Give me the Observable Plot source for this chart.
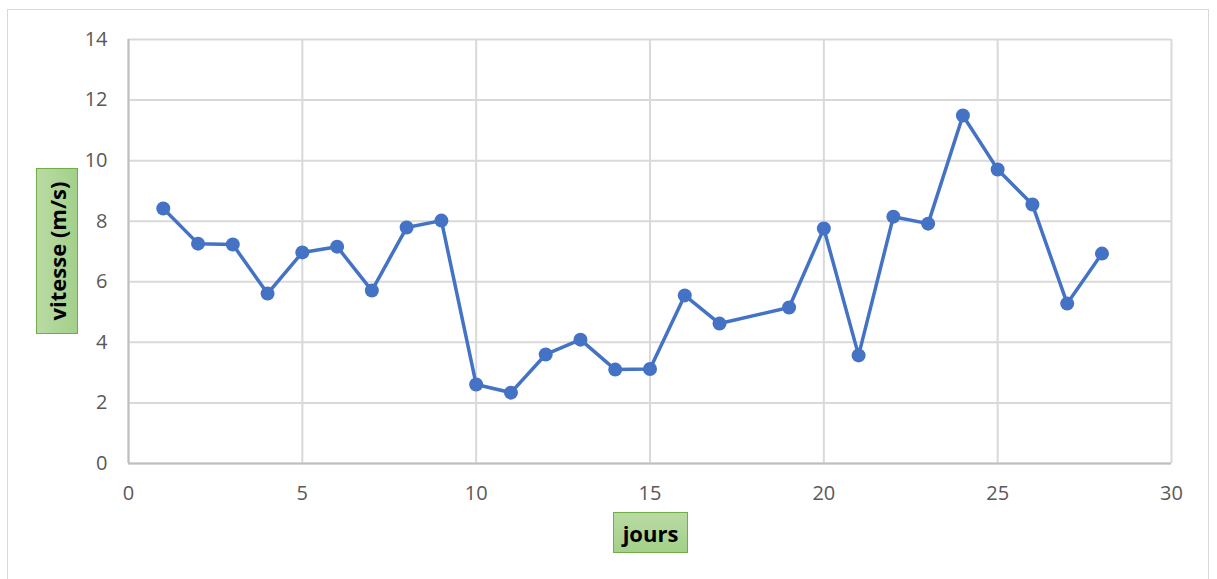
<!DOCTYPE html>
<html>
<head>
<meta charset="utf-8">
<script src="https://cdn.jsdelivr.net/npm/d3@7"></script>
<script src="https://cdn.jsdelivr.net/npm/@observablehq/plot@0.6"></script>
<style>
  html, body { margin: 0; padding: 0; background: #fff; }
  #wrap { position: relative; width: 1217px; height: 579px; overflow: hidden; }
  #frame { position: absolute; left: 7px; top: 9px; width: 1202px; height: 600px; border: 1px solid #d9d9d9; box-sizing: border-box; }
  #chart { position: absolute; left: 0; top: 0; }
  .lab { position: absolute; background: linear-gradient(to right, #b9dba3, #a3d08a); border: 1px solid #70ad47; box-sizing: border-box;
         font-family: "Open Sans", "Liberation Sans", sans-serif; font-weight: bold; color: #000; font-size: 22px;
         display: flex; align-items: center; justify-content: center; white-space: nowrap; }
  #ylab { left: 36px; top: 168px; width: 42px; height: 166px; }
  #ylab span { transform: rotate(-90deg); display: inline-block; }
  #xlab { left: 613px; top: 512px; width: 75px; height: 41px; background: linear-gradient(to bottom, #b9dba3, #a3d08a); }
</style>
</head>
<body>
<div id="wrap">
  <div id="frame"></div>
  <div id="chart"></div>
  <div class="lab" id="ylab"><span>vitesse (m/s)</span></div>
  <div class="lab" id="xlab">jours</div>
</div>
<script>
const jours = [1, 2, 3, 4, 5, 6, 7, 8, 9, 10, 11, 12, 13, 14, 15, 16, 17, 19, 20, 21, 22, 23, 24, 25, 26, 27, 28];
const vitesse = [8.42, 7.26, 7.23, 5.61, 6.97, 7.16, 5.71, 7.79, 8.02, 2.61, 2.34, 3.60, 4.09, 3.10, 3.12, 5.55, 4.62, 5.15, 7.76, 3.57, 8.15, 7.92, 11.49, 9.71, 8.55, 5.28, 6.93];
const xTicks = [0, 5, 10, 15, 20, 25, 30];
const yTicks = [0, 2, 4, 6, 8, 10, 12, 14];

const data = jours.map((j, i) => ({jour: j, v: vitesse[i]}));

const chart = Plot.plot({
  width: 1217,
  height: 579,
  marginLeft: 128,
  marginRight: 46,
  marginTop: 39,
  marginBottom: 116,
  style: {fontFamily: "'Open Sans', 'Liberation Sans', sans-serif", fontSize: "20px", color: "#595959", background: "transparent"},
  x: {domain: [0, 30], ticks: xTicks, label: null},
  y: {domain: [0, 14], ticks: yTicks, label: null},
  marks: [
    Plot.gridX(xTicks, {stroke: "#d9d9d9", strokeOpacity: 1, strokeWidth: 2}),
    Plot.gridY(yTicks, {stroke: "#d9d9d9", strokeOpacity: 1, strokeWidth: 2}),
    Plot.ruleX([0], {stroke: "#bfbfbf", strokeWidth: 2}),
    Plot.ruleY([0], {stroke: "#bfbfbf", strokeWidth: 2}),
    Plot.axisX(xTicks, {tickSize: 0, tickPadding: 22, fill: "#595959", fontSize: 20, label: null}),
    Plot.axisY(yTicks, {tickSize: 0, tickPadding: 21, fill: "#595959", fontSize: 20, label: null}),
    Plot.line(data, {x: "jour", y: "v", stroke: "#4472c4", strokeWidth: 3.5}),
    Plot.dot(data, {x: "jour", y: "v", fill: "#4472c4", r: 7})
  ]
});
document.getElementById("chart").appendChild(chart);
</script>
</body>
</html>
